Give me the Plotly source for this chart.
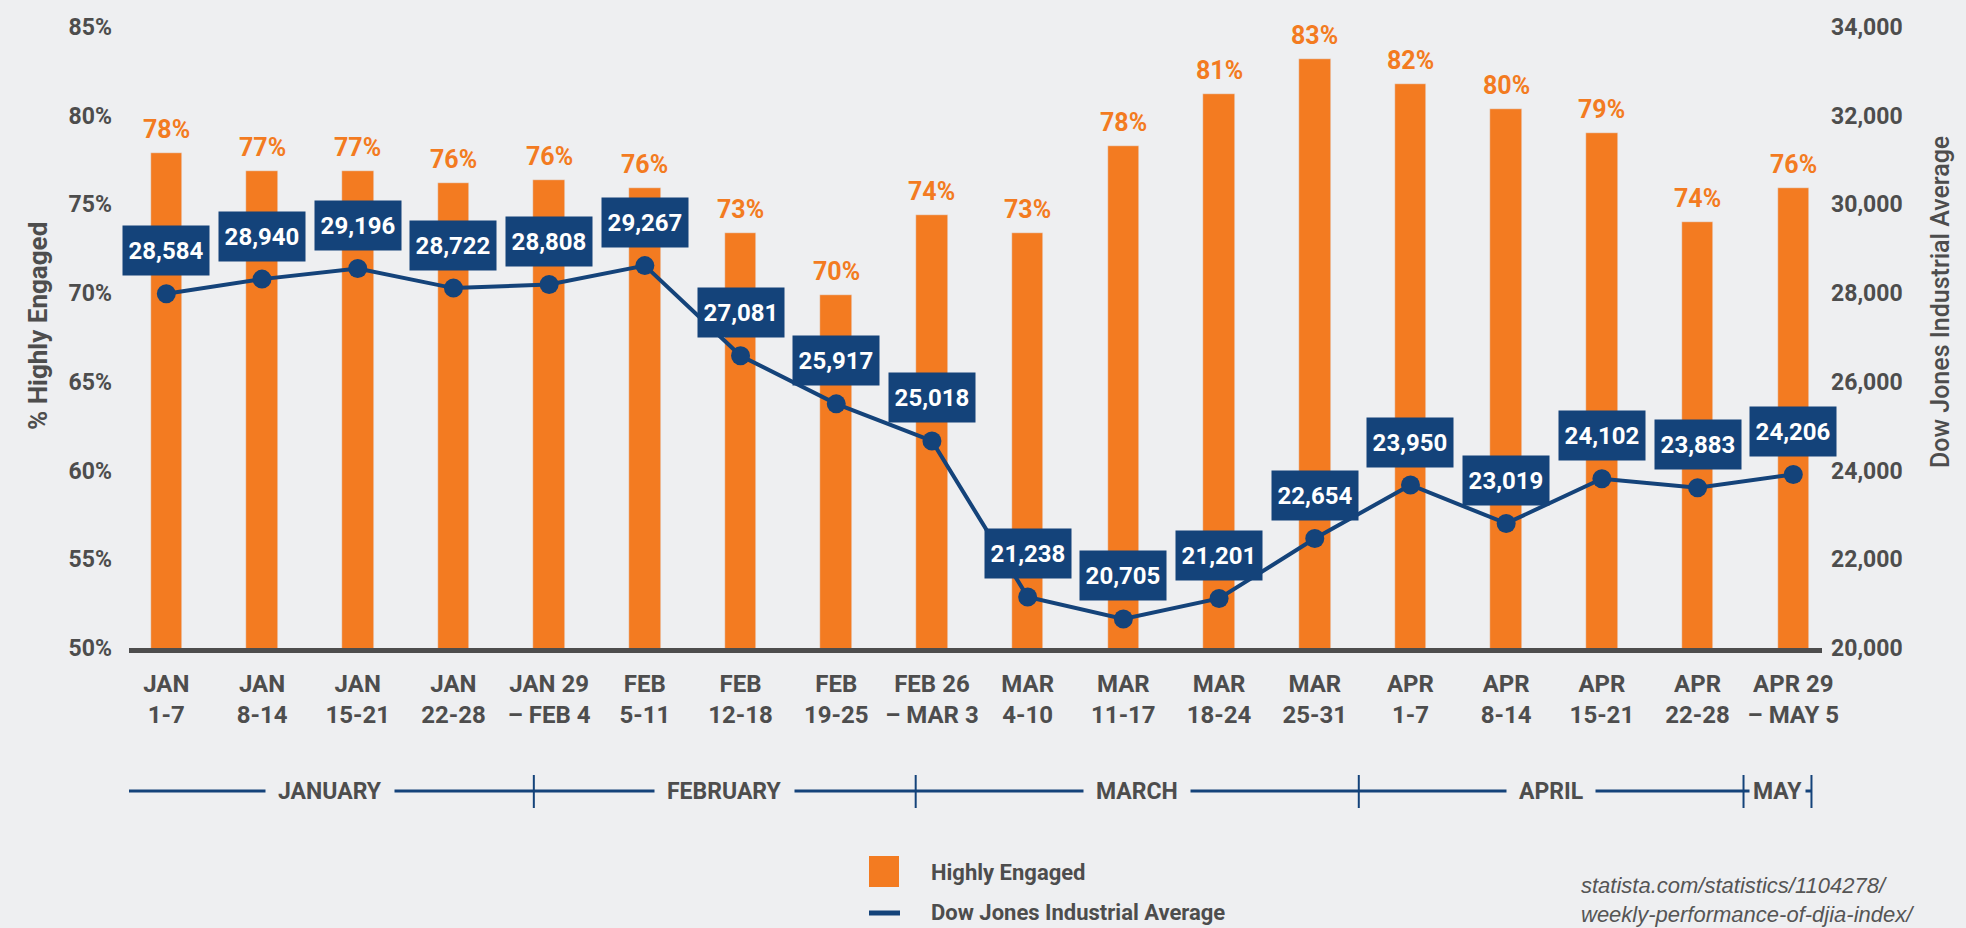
import plotly.graph_objects as go

# ---------------- data ----------------
weeks = ["JAN<br>1-7", "JAN<br>8-14", "JAN<br>15-21", "JAN<br>22-28", "JAN 29<br>– FEB 4",
         "FEB<br>5-11", "FEB<br>12-18", "FEB<br>19-25", "FEB 26<br>– MAR 3", "MAR<br>4-10",
         "MAR<br>11-17", "MAR<br>18-24", "MAR<br>25-31", "APR<br>1-7", "APR<br>8-14",
         "APR<br>15-21", "APR<br>22-28", "APR 29<br>– MAY 5"]
engaged = [77.9, 76.9, 76.9, 76.2, 76.4, 75.9, 73.4, 69.9, 74.4, 73.4,
           78.3, 81.2, 83.2, 81.8, 80.4, 79.0, 74.0, 75.9]
djia = [28584, 28940, 29196, 28722, 28808, 29267, 27081, 25917, 25018, 21238,
        20705, 21201, 22654, 23950, 23019, 24102, 23883, 24206]
months = ["JANUARY", "FEBRUARY", "MARCH", "APRIL", "MAY"]
left_ticks = [50, 55, 60, 65, 70, 75, 80, 85]
left_tick_labels = ["50%", "55%", "60%", "65%", "70%", "75%", "80%", "85%"]
right_ticks = [20000, 22000, 24000, 26000, 28000, 30000, 32000, 34000]
source_text = "statista.com/statistics/1104278/<br>weekly-performance-of-djia-index/"

# ---------------- style ----------------
W, H = 1966, 928
L, R, T, B = 129, 144, 27, 280
PW, PH = W - L - R, H - T - B
BG = "#EEEFF1"
ORANGE = "#F37B21"
NAVY = "#14437A"
GRAY = "#4D4D4D"
FONT = "Roboto, Liberation Sans, sans-serif"
month_edges = [-0.43, 3.84, 7.83, 12.46, 16.48, 17.19]


def px(p):
    return (p - L) / PW


def py(p):
    return (H - B - p) / PH


fig = go.Figure()
fig.add_trace(go.Bar(x=weeks, y=engaged, marker_color=ORANGE, width=0.33,
                     name="Highly Engaged", showlegend=False, hoverinfo="x+y"))
fig.add_trace(go.Scatter(x=weeks, y=djia, yaxis="y3", mode="lines+markers",
                         line=dict(color=NAVY, width=4), marker=dict(color=NAVY, size=19),
                         name="Dow Jones Industrial Average", showlegend=False))
fig.add_trace(go.Scatter(x=[], y=[], yaxis="y2", showlegend=False, hoverinfo="skip"))

ann = []
for w, v in zip(weeks, engaged):
    ann.append(dict(x=w, y=v, xref="x", yref="y", text=f"{v:.0f}%", showarrow=False,
                    yanchor="bottom", yshift=7,
                    font=dict(family=FONT, size=25, color=ORANGE, weight="bold")))
for w, v in zip(weeks, djia):
    ann.append(dict(x=w, y=v, xref="x", yref="y3", text=f"{v:,}", showarrow=False,
                    yanchor="middle", yshift=43, width=86, height=49, bgcolor=NAVY,
                    borderpad=0, font=dict(family=FONT, size=24, color="white", weight="bold")))

shapes = []
yb = py(791)
shapes.append(dict(type="line", xref="x", yref="paper", x0=month_edges[0], x1=month_edges[-1],
                   y0=yb, y1=yb, line=dict(color=NAVY, width=3)))
for e in month_edges:
    shapes.append(dict(type="line", xref="x", yref="paper", x0=e, x1=e,
                       y0=py(775), y1=py(808), line=dict(color=NAVY, width=2)))
for i, m in enumerate(months):
    ann.append(dict(x=(month_edges[i] + month_edges[i + 1]) / 2, y=yb, xref="x", yref="paper",
                    text=m, showarrow=False, xanchor="center", yanchor="middle",
                    bgcolor=BG, borderpad=(3 if m == "MAY" else 12),
                    font=dict(family=FONT, size=23, color=GRAY, weight="bold")))

# legend (custom)
shapes.append(dict(type="rect", xref="paper", yref="paper", x0=px(869), x1=px(899),
                   y0=py(887), y1=py(856), fillcolor=ORANGE, line=dict(width=0)))
shapes.append(dict(type="line", xref="paper", yref="paper", x0=px(869), x1=px(900),
                   y0=py(913), y1=py(913), line=dict(color=NAVY, width=5)))
ann.append(dict(x=px(929), y=py(872), xref="paper", yref="paper", text="Highly Engaged",
                showarrow=False, xanchor="left", yanchor="middle",
                font=dict(family=FONT, size=22, color=GRAY, weight="bold")))
ann.append(dict(x=px(929), y=py(912), xref="paper", yref="paper",
                text="Dow Jones Industrial Average", showarrow=False, xanchor="left",
                yanchor="middle", font=dict(family=FONT, size=22, color=GRAY, weight="bold")))
ann.append(dict(x=px(1579), y=py(900), xref="paper", yref="paper", text=source_text,
                showarrow=False, xanchor="left", yanchor="middle", align="left",
                font=dict(family="Liberation Sans, sans-serif", size=22, color="#555555",
                          style="italic")))
# axis titles
ann.append(dict(x=px(38), y=py(326), xref="paper", yref="paper", text="% Highly Engaged",
                showarrow=False, textangle=-90, xanchor="center", yanchor="middle",
                font=dict(family=FONT, size=26, color=GRAY, weight="bold")))
ann.append(dict(x=px(1940), y=py(302), xref="paper", yref="paper",
                text="Dow Jones Industrial Average", showarrow=False, textangle=-90,
                xanchor="center", yanchor="middle",
                font=dict(family=FONT, size=25, color=GRAY, weight=500)))

fig.update_layout(
    width=W, height=H, margin=dict(l=L, r=R, t=T, b=B),
    paper_bgcolor=BG, plot_bgcolor=BG, showlegend=False, bargap=0,
    xaxis=dict(type="category", range=[-0.39, 17.30], showline=True, linecolor=GRAY,
               linewidth=5, ticks="", showgrid=False, ticklabelstandoff=10,
               tickfont=dict(family=FONT, size=24, color=GRAY, weight="bold")),
    yaxis=dict(range=[50, 85], tickvals=left_ticks, ticktext=left_tick_labels,
               showgrid=False, zeroline=False, showline=False, ticklabelstandoff=16,
               tickfont=dict(family=FONT, size=23, color=GRAY, weight="bold")),
    yaxis2=dict(overlaying="y", side="right", range=[20000, 34000], tickvals=right_ticks,
                tickformat=",d", showgrid=False, zeroline=False, showline=False,
                ticklabelstandoff=8,
                tickfont=dict(family=FONT, size=23, color=GRAY, weight="bold")),
    yaxis3=dict(overlaying="y", side="right", range=[20000, 35050], visible=False),
    annotations=ann, shapes=shapes,
)

fig.write_html("out.html", config={"displayModeBar": False},
               post_script="document.body.style.margin='0';"
                           "document.body.style.background='#EEEFF1';")
